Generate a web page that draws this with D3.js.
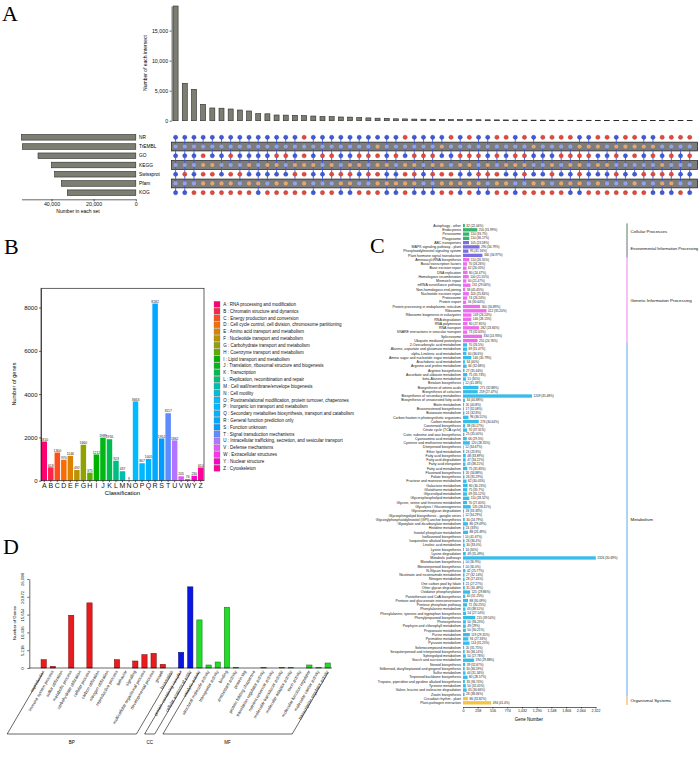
<!DOCTYPE html>
<html><head><meta charset="utf-8">
<script src="https://cdn.jsdelivr.net/npm/d3@7"></script>
<style>body{margin:0;background:#fff} svg{display:block;font-family:Arial,"Liberation Sans",sans-serif}</style>
</head><body><svg id="c" width="700" height="770"></svg>
<script>
// ---------- Panel A data (UpSet) ----------
const setNames = ["NR","TrEMBL","GO","KEGG","Swissprot","Pfam","KOG"];
const setSizes = [54240, 53800, 46400, 40000, 38500, 35300, 32500];
const setTicks = [40000, 20000, 0];
const intersectCounts = [19100, 6230, 5230, 2730, 2120, 2080, 1950, 1780, 1620, 1170, 1150, 950, 930, 900, 850, 780, 700, 680, 620, 600, 520, 470, 420, 400, 320, 300, 270, 250, 240, 210, 190, 180, 170, 160, 150, 140, 130, 120, 110, 105, 100, 95, 90, 85, 80, 75, 70, 65, 60, 55, 50, 45, 40, 35, 30, 25, 20];
const intersectMasks = ["1111111","1111011","1111110","1100000","1110000","1111100","1101000","1111010","1110100","1111101","1110110","1100100","1101100","1110010","0100000","1110111","1101110","1100010","1111001","1110001","1100110","1101010","1000000","1110101","1101101","0110000","1100001","1101111","1100011","1010000","0111000","1100101","0100100","1101001","1110011","0101000","0110100","1100111","0100010","1011100","0111100","0110010","0101100","0100101","1000001","1001110","0010100","0110110","1001010","0011110","0001100","1011010","1001011","0110001","0101001","0111110","0101111"];
const intersectTicks = [0, 5000, 10000, 15000];

// ---------- Panel B data (KOG classes) ----------
const kogCodes = ["A","B","C","D","E","F","G","H","I","J","K","L","M","N","O","P","Q","R","S","T","U","V","W","Y","Z"];
const kogCounts = [1810, 618, 1300, 970, 1146, 492, 1660, 375, 1212, 1989, 1916, 923, 437, 9, 3663, 807, 1005, 8182, 1952, 3117, 1862, 205, 76, 230, 610];
const kogDescriptions = ["RNA processing and modification","Chromatin structure and dynamics","Energy production and conversion","Cell cycle control, cell division, chromosome partitioning","Amino acid transport and metabolism","Nucleotide transport and metabolism","Carbohydrate transport and metabolism","Coenzyme transport and metabolism","Lipid transport and metabolism","Translation, ribosomal structure and biogenesis","Transcription","Replication, recombination and repair","Cell wall/membrane/envelope biogenesis","Cell motility","Posttranslational modification, protein turnover, chaperones","Inorganic ion transport and metabolism","Secondary metabolites biosynthesis, transport and catabolism","General function prediction only","Function unknown","Signal transduction mechanisms","Intracellular trafficking, secretion, and vesicular transport","Defense mechanisms","Extracellular structures","Nuclear structure","Cytoskeleton"];
const kogTicks = [0, 2000, 4000, 6000, 8000];

// ---------- Panel C data (KEGG pathways) ----------
const keggClassNames = ["Cellular Processes","Environmental Information Processing","Genetic Information Processing","Metabolism","Organismal Systems"];
const keggClassSizes = [4, 4, 20, 83, 2];
const keggNames = ["Autophagy - other","Endocytosis","Peroxisome","Phagosome",
"ABC transporters","MAPK signaling pathway - plant","Phosphatidylinositol signaling system","Plant hormone signal transduction",
"Aminoacyl-tRNA biosynthesis","Basal transcription factors","Base excision repair","DNA replication","Homologous recombination","Mismatch repair","mRNA surveillance pathway","Non-homologous end-joining","Nucleotide excision repair","Proteasome","Protein export","Protein processing in endoplasmic reticulum","Ribosome","Ribosome biogenesis in eukaryotes","RNA degradation","RNA polymerase","RNA transport","SNARE interactions in vesicular transport","Spliceosome","Ubiquitin mediated proteolysis",
"2-Oxocarboxylic acid metabolism","Alanine, aspartate and glutamate metabolism","alpha-Linolenic acid metabolism","Amino sugar and nucleotide sugar metabolism","Arachidonic acid metabolism","Arginine and proline metabolism","Arginine biosynthesis","Ascorbate and aldarate metabolism","beta-Alanine metabolism","Betalain biosynthesis","Biosynthesis of amino acids","Biosynthesis of cofactors","Biosynthesis of secondary metabolites","Biosynthesis of unsaturated fatty acids","Biotin metabolism","Brassinosteroid biosynthesis","Butanoate metabolism","Carbon fixation in photosynthetic organisms","Carbon metabolism","Carotenoid biosynthesis","Citrate cycle (TCA cycle)","Cutin, suberine and wax biosynthesis","Cyanoamino acid metabolism","Cysteine and methionine metabolism","Diterpenoid biosynthesis","Ether lipid metabolism","Fatty acid biosynthesis","Fatty acid degradation","Fatty acid elongation","Fatty acid metabolism","Flavonoid biosynthesis","Folate biosynthesis","Fructose and mannose metabolism","Galactose metabolism","Glutathione metabolism","Glycerolipid metabolism","Glycerophospholipid metabolism","Glycine, serine and threonine metabolism","Glycolysis / Gluconeogenesis","Glycosaminoglycan degradation","Glycosphingolipid biosynthesis - ganglio series","Glycosylphosphatidylinositol (GPI)-anchor biosynthesis","Glyoxylate and dicarboxylate metabolism","Histidine metabolism","Inositol phosphate metabolism","Isoflavonoid biosynthesis","Isoquinoline alkaloid biosynthesis","Linoleic acid metabolism","Lysine biosynthesis","Lysine degradation","Metabolic pathways","Monobactam biosynthesis","Monoterpenoid biosynthesis","N-Glycan biosynthesis","Nicotinate and nicotinamide metabolism","Nitrogen metabolism","One carbon pool by folate","Other glycan degradation","Oxidative phosphorylation","Pantothenate and CoA biosynthesis","Pentose and glucuronate interconversions","Pentose phosphate pathway","Phenylalanine metabolism","Phenylalanine, tyrosine and tryptophan biosynthesis","Phenylpropanoid biosynthesis","Photosynthesis","Porphyrin and chlorophyll metabolism","Propanoate metabolism","Purine metabolism","Pyrimidine metabolism","Pyruvate metabolism","Selenocompound metabolism","Sesquiterpenoid and triterpenoid biosynthesis","Sphingolipid metabolism","Starch and sucrose metabolism","Steroid biosynthesis","Stilbenoid, diarylheptanoid and gingerol biosynthesis","Sulfur metabolism","Terpenoid backbone biosynthesis","Tropane, piperidine and pyridine alkaloid biosynthesis","Tyrosine metabolism","Valine, leucine and isoleucine degradation","Zeatin biosynthesis",
"Circadian rhythm - plant","Plant-pathogen interaction"];
const keggGenes = [32,250,110,110, 105,290,95,340,
110,70,62,80,100,60,131,38,103,74,56,300,412,149,146,80,282,73,334,255,
70,69,60,146,34,64,27,75,51,12,271,259,1209,34,20,17,24,96,276,38,70,25,66,120,12,23,48,47,43,75,20,26,62,80,75,69,110,70,135,18,12,30,86,24,88,10,26,30,16,49,2326,14,14,42,27,28,21,31,125,40,88,72,43,54,215,50,49,50,119,94,114,20,30,50,194,39,30,44,80,33,50,65,28,
86,494];
const keggPercents = ["22.06%","31.99%","33.7%","36.17%", "23.58%","34.79%","31.16%","34.97%",
"26.55%","26.26%","26.05%","24.47%","21.55%","21.47%","29.06%","45.45%","25.84%","26.24%","30.64%","30.89%","35.20%","26.24%","28.15%","27.85%","23.84%","32.63%","24.93%","24.76%",
"26.5%","31.47%","36.6%","30.79%","40%","32.68%","35.64%","35.73%","30%","41.38%","32.88%","27.47%","35.48%","40.88%","40.8%","32.08%","32.8%","36.51%","30.64%","30.17%","37.31%","35.00%","29.5%","28.35%","34.67%","23.8%","33.89%","34.22%","38.21%","35.85%","34.88%","35.29%","30.05%","30.23%","35.7%","35.12%","28.52%","27.40%","28.41%","33.33%","34.29%","24.79%","29.49%","33%","26.49%","41.67%","36.4%","33.0%","30%","31.49%","30.69%","30.9%","30.0%","25.77%","32.14%","27.45%","27.27%","30.49%","29.86%","31.25%","30.09%","30.25%","38.51%","27.14%","39.54%","36.23%","29%","30.21%","29.31%","27.33%","31.25%","31.75%","36.14%","27.78%","29.88%","32.67%","36.59%","31.34%","28.57%","36.74%","32.05%","30.66%","38.36%",
"32.82%","41.4%"];
const keggTicks = [0, 258, 516, 774, 1032, 1290, 1548, 1806, 2064, 2322];

// ---------- Panel D data (GO) ----------
const goGroupNames = ["BP","CC","MF"];
const goGroupSizes = [15, 2, 15];
const goTerms = ["reproduction","immune system process","sulfur utilization","metabolic process","carbohydrate utilization","cellular process","carbon utilization","nitrogen utilization","reproductive process","behavior","signaling","multicellular organismal process","developmental process","growth","locomotion",
"protein-containing complex","cellular anatomical entity",
"catalytic activity","structural molecule activity","transporter activity","binding","antioxidant activity","protein tag","protein folding chaperone","translation regulator activity","nutrient reservoir activity","molecular transducer activity","molecular adaptor activity","toxin activity","molecular function regulator","molecular carrier activity","transcription regulator activity"];
const goCounts = [2447, 490, 0, 15468, 0, 19090, 0, 0, 2447, 0, 2056, 3916, 4308, 1077, 0,
4601, 23790,
14097, 881, 1762, 17818, 200, 0, 0, 200, 0, 200, 100, 0, 881, 100, 1468];
const goTicks = [0, 5218, 10436, 15654, 20872, 26090];

// =====================================================
const svg = d3.select("#c");
const serif = "'Times New Roman','Liberation Serif',serif";
[["A",2,21],["B",4,254],["C",370,253],["D",3,554]].forEach(([t,x,y]) =>
  svg.append("text").attr("x",x).attr("y",y).attr("font-family",serif).attr("font-size",22).text(t));

function styleAxis(g, fs){
  g.selectAll("path.domain").attr("stroke","#000").attr("stroke-width",0.6);
  g.selectAll(".tick line").attr("stroke","#000").attr("stroke-width",0.6);
  g.selectAll(".tick text").attr("font-size",fs).attr("fill","#111").attr("font-family","Arial,'Liberation Sans',sans-serif");
}

// ---------------- Panel A ----------------
const gA = svg.append("g");
const xA = d3.scalePoint().domain(d3.range(intersectCounts.length)).range([175.6, 689.7]);
const yA = d3.scaleLinear().domain([0, 19100]).range([120.7, 6]);
const barFillA = "#7c7e72";
gA.selectAll("rect.ib").data(intersectCounts).join("rect")
  .attr("x",(d,i)=>xA(i)-2.5).attr("width",5)
  .attr("y",d=>yA(d)).attr("height",d=>yA(0)-yA(d))
  .attr("fill",barFillA).attr("stroke","#2a2a2a").attr("stroke-width",0.6);
const axA = gA.append("g").attr("transform","translate(171.6,0)")
  .call(d3.axisLeft(yA).tickValues(intersectTicks).tickFormat(d3.format(",")).tickSize(2).tickSizeOuter(0).tickPadding(1.5));
styleAxis(axA, 5.3);
gA.append("text").attr("transform","translate(147,63) rotate(-90)").attr("text-anchor","middle")
  .attr("font-size",5).text("Number of each intersect");

const ySet = d3.scalePoint().domain(setNames).range([137.3, 192.7]);
const xSet = d3.scaleLinear().domain([0, 54240]).range([135.8, 21.5]);
gA.selectAll("rect.sb").data(setSizes).join("rect")
  .attr("x",d=>xSet(d)).attr("width",d=>xSet(0)-xSet(d))
  .attr("y",(d,i)=>ySet(setNames[i])-2.8).attr("height",5.6)
  .attr("fill",barFillA).attr("stroke","#2a2a2a").attr("stroke-width",0.6);
const axS = gA.append("g").attr("transform","translate(0,199.3)")
  .call(d3.axisBottom(xSet).tickValues(setTicks).tickFormat(d3.format(",")).tickSize(2).tickSizeOuter(0).tickPadding(1));
styleAxis(axS, 5.3);
gA.append("text").attr("x",78).attr("y",213).attr("text-anchor","middle").attr("font-size",5).text("Number in each set");
gA.selectAll("text.sn").data(setNames).join("text")
  .attr("x",139).attr("y",d=>ySet(d)+1.7).attr("font-size",4.8).text(d=>d);

const bandRows = setNames.filter((d,i)=>i%2===1);
gA.selectAll("rect.band").data(bandRows).join("rect")
  .attr("x",171.6).attr("width",526).attr("y",d=>ySet(d)-4.4).attr("height",8.8)
  .attr("fill","#7d7d7d").attr("stroke","#1a1a1a").attr("stroke-width",0.7);
intersectMasks.forEach((m,i)=>{
  const mem = setNames.filter((s,j)=>m[j]==="1");
  if(mem.length>1){
    const ys = mem.map(s=>ySet(s));
    gA.append("line").attr("x1",xA(i)).attr("x2",xA(i))
      .attr("y1",d3.min(ys)).attr("y2",d3.max(ys))
      .attr("stroke","#3a57d6").attr("stroke-width",1).attr("opacity",0.85);
  }
});
const dotData = [];
intersectMasks.forEach((m,i)=>setNames.forEach((s,j)=>dotData.push({i, j, s, on: m[j]==="1"})));
gA.selectAll("circle.dot").data(dotData).join("circle")
  .attr("cx",d=>xA(d.i)).attr("cy",d=>ySet(d.s)).attr("r",2.1)
  .attr("fill",d=> d.j%2===1 ? (d.on?"#93a3ea":"#e6a66c") : (d.on?"#3f5bdc":"#e8483c"))
  .attr("stroke",d=> d.j%2===1 ? "none" : (d.on?"#1c2f94":"#9b2a1f")).attr("stroke-width",0.4);

// ---------------- Panel B ----------------
const gB = svg.append("g");
const xB = d3.scaleBand().domain(kogCodes).range([41, 204]).paddingInner(0.16).paddingOuter(0.08);
const yB = d3.scaleLinear().domain([0, 8887]).range([480.7, 288.3]);
const kogColor = (i)=> d3.hcl(15 + i*360/kogCodes.length, 100, 63).formatHex();
gB.selectAll("rect.kb").data(kogCounts).join("rect")
  .attr("x",(d,i)=>xB(kogCodes[i])).attr("width",xB.bandwidth())
  .attr("y",d=>yB(d)).attr("height",d=>yB(0)-yB(d))
  .attr("fill",(d,i)=>kogColor(i));
gB.selectAll("text.kv").data(kogCounts).join("text")
  .attr("x",(d,i)=>xB(kogCodes[i])+xB.bandwidth()/2).attr("y",d=>yB(d)-0.8)
  .attr("text-anchor","middle").attr("font-size",3.4).attr("fill","#222").text(d=>d);
gB.append("rect").attr("x",41).attr("y",288.3).attr("width",163).attr("height",192.4)
  .attr("fill","none").attr("stroke","#222").attr("stroke-width",0.7);
const axBy = gB.append("g").attr("transform","translate(41,0)")
  .call(d3.axisLeft(yB).tickValues(kogTicks).tickFormat(d3.format("d")).tickSize(2).tickSizeOuter(0).tickPadding(1.5));
styleAxis(axBy, 6);
const axBx = gB.append("g").attr("transform","translate(0,480.7)")
  .call(d3.axisBottom(xB).tickSize(1.5).tickSizeOuter(0).tickPadding(1));
styleAxis(axBx, 7);
axBx.select("path.domain").remove();
gB.append("text").attr("x",122.5).attr("y",495).attr("text-anchor","middle").attr("font-size",6).text("Classification");
gB.append("text").attr("transform","translate(16,384) rotate(-90)").attr("text-anchor","middle").attr("font-size",5.6).text("Number of genes");
const legY = d3.scalePoint().domain(kogCodes).range([304.3, 468.2]);
gB.selectAll("rect.lg").data(kogCodes).join("rect")
  .attr("x",214).attr("y",d=>legY(d)-3).attr("width",6).attr("height",6)
  .attr("fill",(d,i)=>kogColor(i)).attr("stroke","#777").attr("stroke-width",0.3);
gB.selectAll("text.lg").data(kogCodes).join("text")
  .attr("x",223.3).attr("y",d=>legY(d)+1.6).attr("font-size",4.5).attr("fill","#111")
  .text((d,i)=>d+" : "+kogDescriptions[i]);

// ---------------- Panel C ----------------
const gC = svg.append("g");
const keggClass = [];
keggClassSizes.forEach((n,k)=>{ for(let q=0;q<n;q++) keggClass.push(keggClassNames[k]); });
const classColor = d3.scaleOrdinal().domain(keggClassNames).range(["#35b36f","#7b6fe0","#ee6cee","#38bdeb","#f3c247"]);
const lineColor = d3.scaleOrdinal().domain(keggClassNames).range(["#4f7d62","#6a6a7a","#ee82ee","#5ea6e6","#f0a840"]);
const yC = d3.scaleBand().domain(keggNames).range([223.9, 704.5]).paddingInner(0.22);
const xC = d3.scaleLinear().domain([0, 2322]).range([463, 595.6]);
gC.selectAll("rect.kg").data(keggGenes).join("rect")
  .attr("x",xC(0)).attr("width",d=>xC(d)-xC(0))
  .attr("y",(d,i)=>yC(keggNames[i])).attr("height",yC.bandwidth())
  .attr("fill",(d,i)=>classColor(keggClass[i]));
gC.selectAll("text.kn").data(keggNames).join("text")
  .attr("x",461).attr("y",d=>yC(d)+yC.bandwidth()/2+1.2).attr("text-anchor","end")
  .attr("font-size",3.5).attr("fill","#222").text(d=>d);
gC.selectAll("text.kvl").data(keggGenes).join("text")
  .attr("x",d=>xC(d)+1.5).attr("y",(d,i)=>yC(keggNames[i])+yC.bandwidth()/2+1.1)
  .attr("font-size",3.1).attr("fill","#222").text((d,i)=>d+" ("+keggPercents[i]+")");
const axC = gC.append("g").attr("transform","translate(0,707)")
  .call(d3.axisBottom(xC).tickValues(keggTicks).tickSize(1.5).tickSizeOuter(0).tickPadding(1));
styleAxis(axC, 3.6);
gC.append("text").attr("x",529).attr("y",721).attr("text-anchor","middle").attr("font-size",4.5).text("Gene Number");
let start = 0;
keggClassSizes.forEach((n,k)=>{
  const first = keggNames[start], last = keggNames[start+n-1];
  const y1 = yC(first)-0.5, y2 = yC(last)+yC.bandwidth()+0.5;
  gC.append("line").attr("x1",627).attr("x2",627).attr("y1",y1).attr("y2",y2)
    .attr("stroke",lineColor(keggClassNames[k])).attr("stroke-width",1);
  const t = gC.append("text").attr("x",630.5).attr("y",(y1+y2)/2+1.5).attr("font-size",4.4).attr("fill","#111")
    .text(keggClassNames[k]);
  const w = t.node().getComputedTextLength();
  if (630.5 + w > 698) t.attr("font-size", 4.4 * (698 - 630.5) / w);
  start += n;
});

// ---------------- Panel D ----------------
const gD = svg.append("g");
const goGroup = [];
goGroupSizes.forEach((n,k)=>{ for(let q=0;q<n;q++) goGroup.push(goGroupNames[k]); });
const goColor = d3.scaleOrdinal().domain(goGroupNames).range(["#ea1b1d","#0a16e4","#22dd28"]);
const goStroke = d3.scaleOrdinal().domain(goGroupNames).range(["#7a0b0b","#05096e","#0f6d13"]);
const xD = d3.scalePoint().domain(goTerms).range([43.7, 327.7]);
const yD = d3.scaleLinear().domain([0, 26090]).range([668, 579]);
gD.selectAll("rect.gb").data(goCounts).join("rect")
  .attr("x",(d,i)=>xD(goTerms[i])-2.65).attr("width",5.3)
  .attr("y",d=>yD(d)).attr("height",d=>yD(0)-yD(d))
  .attr("fill",(d,i)=>goColor(goGroup[i])).attr("stroke",(d,i)=>goStroke(goGroup[i])).attr("stroke-width",0.5);
const axD = gD.append("g").attr("transform","translate(29.3,0)")
  .call(d3.axisLeft(yD).tickValues(goTicks).tickSize(2).tickSizeOuter(0).tickPadding(1));
styleAxis(axD, 4.3);
axD.selectAll(".tick text").attr("transform","rotate(-90)").attr("text-anchor","middle").attr("x",0).attr("y",-5.5).attr("dy",0);
gD.append("line").attr("x1",29.3).attr("x2",332).attr("y1",668).attr("y2",668).attr("stroke","#000").attr("stroke-width",0.6);
gD.append("text").attr("transform","translate(16,623) rotate(-90)").attr("text-anchor","middle").attr("font-size",4.3).text("Number of Genes");
gD.selectAll("text.gl").data(goTerms).join("text")
  .attr("transform",d=>`translate(${xD(d)+1},671.5) rotate(-60)`).attr("text-anchor","end")
  .attr("font-size",4.3).attr("fill","#111").text(d=>d);
let gs = 0;
const slantDx = 36, yTop = 672.5, yBot = 734;
goGroupSizes.forEach((n,k)=>{
  const xl = xD(goTerms[gs]) - 0.5, xr = xD(goTerms[gs+n-1]) + 0.5;
  gD.append("path").attr("d",`M${xl},${yTop} L${xl-slantDx},${yBot} L${xr-slantDx},${yBot} L${xr},${yTop}`)
    .attr("fill","none").attr("stroke","#000").attr("stroke-width",0.6);
  gD.append("text").attr("x",(xl+xr)/2-slantDx).attr("y",yBot+9.5).attr("text-anchor","middle")
    .attr("font-size",4.5).text(goGroupNames[k]);
  gs += n;
});
</script></body></html>
